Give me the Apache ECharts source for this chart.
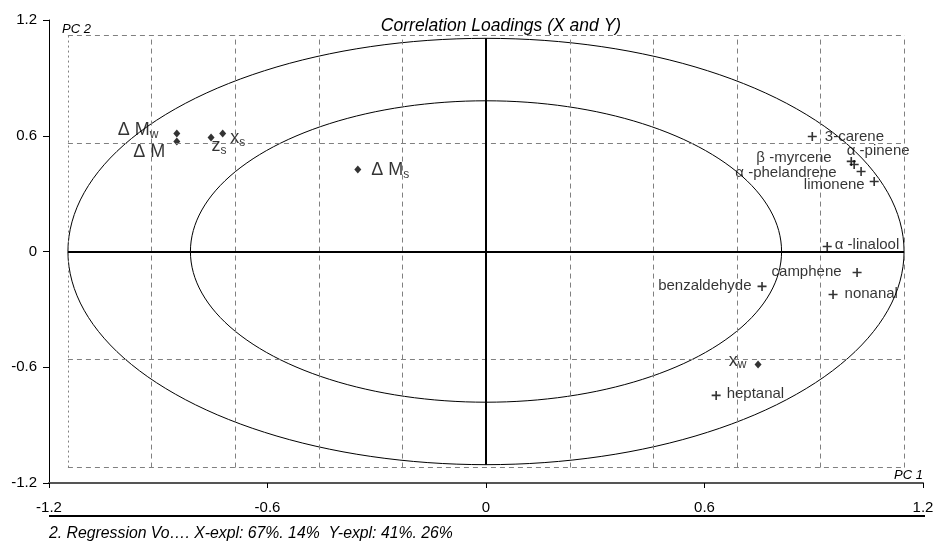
<!DOCTYPE html>
<html>
<head>
<meta charset="utf-8">
<script src="https://cdn.jsdelivr.net/npm/echarts@6/dist/echarts.min.js"></script>
<style>
html,body{margin:0;padding:0;background:#fff}
#main{width:933px;height:543px}
</style>
</head>
<body>
<div id="main"></div>
<script>
// Y variables (diamonds)
var yMain = ['Δ M', 'Δ M', 'z', 'x', 'Δ M', 'x'];
var ySub  = ['w', '', 's', 's', 's', 'w'];
var yVarX = [-0.849, -0.849, -0.755, -0.723, -0.352, 0.747];
var yVarY = [0.612, 0.570, 0.591, 0.612, 0.425, -0.586];

// X variables (crosses)
var xNames = ['3-carene', 'α -pinene', 'β -myrcene', 'α -phelandrene', 'limonene',
              'α -linalool', 'camphene', 'nonanal', 'benzaldehyde', 'heptanal'];
var xVarX = [0.896, 1.003, 1.011, 1.030, 1.066, 0.937, 1.019, 0.953, 0.758, 0.632];
var xVarY = [0.596, 0.467, 0.451, 0.415, 0.363, 0.026, -0.109, -0.223, -0.181, -0.746];

// axis ticks
var axisMin = -1.2, axisMax = 1.2, axisStep = 0.6;

// reference grid of the loadings plot
var frameX = [-1.148, 1.148];
var frameY = [-1.12, 1.12];
var gridVX = [-0.918, -0.689, -0.459, -0.23, 0.23, 0.459, 0.689, 0.918];
var gridHY = [-0.56, 0.56];
var ellRx = 1.148, ellRy = 1.105, innerRatio = 0.707;

// label placement (layout only)
var yLabelPos = ['left', 'left', 'right', 'right', 'right', 'left'];
var yLabelOff = [[-10, -3], [-3, 10], [-8, 9], [-1, 5], [5, 1], [-3, -4]];
var xLabelPos = ['right', 'right', 'left', 'left', 'left', 'right', 'left', 'right', 'left', 'right'];
var xLabelOff = [[3, 0], [-14, -11], [-13, -7], [-15, 1], [0, 3], [-2, -2], [-6, -1], [2, -1], [-1, -1], [1, -2]];

var chart = echarts.init(document.getElementById('main'));

function ellipse(rx, ry) {
    var pts = [];
    for (var i = 0; i <= 360; i += 2) {
        var a = i * Math.PI / 180;
        pts.push([rx * Math.cos(a), ry * Math.sin(a)]);
    }
    return pts;
}

var dashStyle = {color: '#808080', width: 1, type: [5, 4]};
var gridLines = [];
frameX.forEach(function (x, i) {
    gridLines.push([{coord: [x, frameY[0]], lineStyle: i == 0 ? {type: [2, 3]} : {}}, {coord: [x, frameY[1]]}]);
});
gridVX.forEach(function (x) {
    gridLines.push([{coord: [x, frameY[0]]}, {coord: [x, frameY[1]]}]);
});
frameY.concat(gridHY).forEach(function (y) {
    gridLines.push([{coord: [frameX[0], y]}, {coord: [frameX[1], y]}]);
});

var yData = yVarX.map(function (x, i) {
    return {
        value: [x, yVarY[i]],
        label: {position: yLabelPos[i], offset: yLabelOff[i]}
    };
});
var xData = xVarX.map(function (x, i) {
    return {
        value: [x, xVarY[i]],
        label: {position: xLabelPos[i], offset: xLabelOff[i]}
    };
});

var font = '"Liberation Sans", Arial, sans-serif';
var crossPath = 'path://M-0.9,-5H0.9V-0.9H5V0.9H0.9V5H-0.9V0.9H-5V-0.9H-0.9Z';

chart.setOption({
    animation: false,
    backgroundColor: '#fff',
    grid: {left: 49, right: 10, top: 20, bottom: 60, containLabel: false, outerBoundsMode: 'none'},
    xAxis: {
        type: 'value', min: axisMin, max: axisMax, interval: axisStep,
        axisLine: {onZero: false, lineStyle: {color: '#555', width: 2}},
        axisTick: {show: true, length: 5, lineStyle: {color: '#000'}},
        axisLabel: {margin: 17, color: '#000', fontSize: 15, fontFamily: font},
        splitLine: {show: false}
    },
    yAxis: {
        type: 'value', min: axisMin, max: axisMax, interval: axisStep,
        axisLine: {onZero: false, lineStyle: {color: '#000', width: 1}},
        axisTick: {show: true, length: 6, lineStyle: {color: '#000'}},
        axisLabel: {margin: 12, color: '#000', fontSize: 15, fontFamily: font},
        splitLine: {show: false}
    },
    graphic: [
        {type: 'text', x: 501, y: 26, style: {text: 'Correlation Loadings (X and Y)', font: 'italic 17.5px ' + font, fill: '#000', textAlign: 'center', textVerticalAlign: 'middle'}},
        {type: 'text', x: 62, y: 29, style: {text: 'PC 2', font: 'italic 13px ' + font, fill: '#000', textAlign: 'left', textVerticalAlign: 'middle'}},
        {type: 'text', x: 923, y: 475, style: {text: 'PC 1', font: 'italic 13px ' + font, fill: '#000', textAlign: 'right', textVerticalAlign: 'middle'}},
        {type: 'line', shape: {x1: 49, y1: 516, x2: 925, y2: 516}, style: {stroke: '#000', lineWidth: 2}},
        {type: 'text', x: 49, y: 534, style: {text: '2. Regression Vo…. X-expl: 67%. 14%  Y-expl: 41%. 26%', font: 'italic 15.8px ' + font, fill: '#000', textAlign: 'left', textVerticalAlign: 'middle'}}
    ],
    series: [
        {
            type: 'line', silent: true, symbol: 'none', data: [],
            markLine: {
                silent: true, symbol: 'none', label: {show: false},
                lineStyle: dashStyle,
                data: gridLines
            }
        },
        {
            type: 'line', silent: true, symbol: 'none', data: [],
            markLine: {
                silent: true, symbol: 'none', label: {show: false},
                lineStyle: {color: '#000', width: 2, type: 'solid'},
                data: [
                    [{coord: [0, -ellRy]}, {coord: [0, ellRy]}],
                    [{coord: [-ellRx, 0]}, {coord: [ellRx, 0]}]
                ]
            }
        },
        {
            type: 'line', silent: true, showSymbol: false, data: ellipse(ellRx, ellRy),
            lineStyle: {color: '#000', width: 1}
        },
        {
            type: 'line', silent: true, showSymbol: false, data: ellipse(ellRx * innerRatio, ellRy * innerRatio),
            lineStyle: {color: '#000', width: 1}
        },
        {
            type: 'scatter', symbol: 'diamond', symbolSize: [7, 8],
            itemStyle: {color: '#000'},
            data: yData,
            label: {
                show: true, distance: 5,
                formatter: function (p) {
                    var s = '{m|' + yMain[p.dataIndex] + '}';
                    if (ySub[p.dataIndex]) s += '{s|' + ySub[p.dataIndex] + '}';
                    return s;
                },
                rich: {
                    m: {fontSize: 18, fontFamily: font, color: '#000', lineHeight: 20, verticalAlign: 'middle'},
                    s: {fontSize: 12, fontFamily: font, color: '#000', lineHeight: 12, verticalAlign: 'bottom'}
                }
            }
        },
        {
            type: 'scatter', symbol: crossPath, symbolSize: 9,
            itemStyle: {color: '#000'},
            data: xData,
            label: {
                show: true, distance: 5, color: '#000', fontSize: 15, fontFamily: font,
                formatter: function (p) { return xNames[p.dataIndex]; }
            }
        }
    ]
});
</script>
</body>
</html>
